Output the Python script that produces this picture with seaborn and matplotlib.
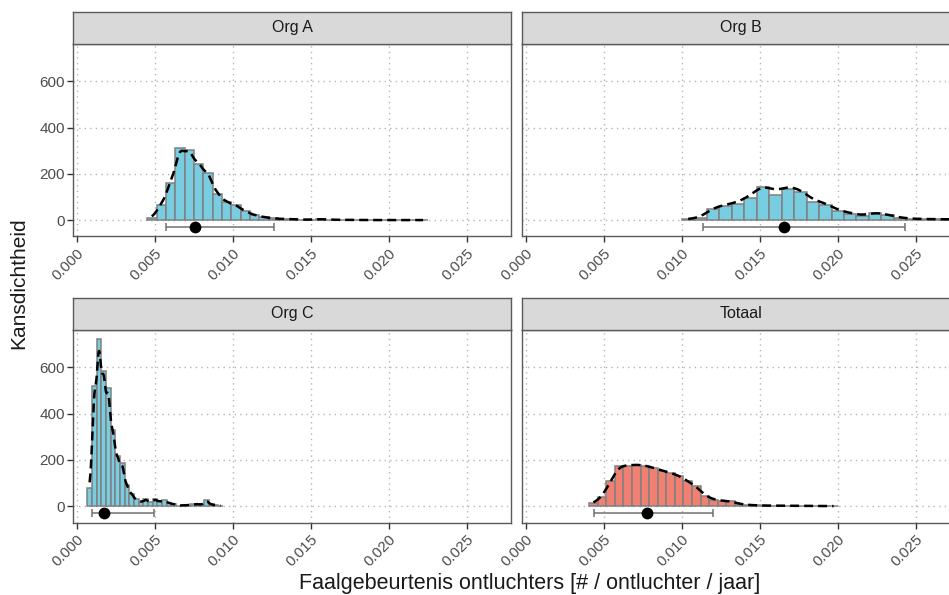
import numpy as np
import pandas as pd
import matplotlib
matplotlib.use("Agg")
import matplotlib.pyplot as plt
import seaborn as sns

# ---------------- data ----------------
panels = ["Org A", "Org B", "Org C", "Totaal"]

# histogram bins: first left edge + bin width, and bar heights (density)
orgA_start, orgA_width = 0.0045, 0.0006
orgA_density = [12, 68, 161, 312, 302, 245, 206, 115, 79, 65, 40, 22, 14, 8,
                6, 4, 3, 3, 5, 3, 2, 2, 1, 1, 1, 1, 1, 1, 1, 1]

orgB_start, orgB_width = 0.0100, 0.0008
orgB_density = [5, 10, 50, 60, 71, 96, 142, 110, 135, 121, 78, 68, 39, 29, 17,
                32, 22, 10, 6, 5, 4, 4, 3, 3, 2, 2, 1, 1, 1, 1]

orgC_start, orgC_width = 0.00066, 0.0003
orgC_density = [79, 518, 724, 583, 511, 330, 215, 185, 90, 55, 30, 20, 30, 20,
                30, 22, 25, 15, 10, 3, 5, 5, 8, 10, 8, 25, 8, 5, 3]

totaal_start, totaal_width = 0.00405, 0.00055
totaal_density = [14, 39, 108, 176, 176, 180, 176, 166, 154, 144, 132, 108, 86,
                  46, 29, 24, 22, 10, 6, 4, 3, 3, 2, 2, 2, 1, 1, 1, 1]

# point estimate and interval per panel
point_est = [0.00756, 0.01656, 0.00175, 0.00776]
interval_lo = [0.00572, 0.01133, 0.00094, 0.00437]
interval_hi = [0.01263, 0.02429, 0.00494, 0.01197]
point_y = -30

x_ticks = [0.000, 0.005, 0.010, 0.015, 0.020, 0.025]
x_tick_labels = ["0.000", "0.005", "0.010", "0.015", "0.020", "0.025"]
y_ticks = [0, 200, 400, 600]
y_tick_labels = ["0", "200", "400", "600"]

x_label = "Faalgebeurtenis ontluchters [# / ontluchter / jaar]"
y_label = "Kansdichtheid"

# ---------------- style ----------------
sns.set_theme(style="white")
plt.rcParams["font.family"] = ["Liberation Sans", "DejaVu Sans"]

blue = "#79CDE0"
salmon = "#F28072"
fills = [blue, blue, blue, salmon]
bw_factors = [0.15, 0.15, 0.10, 0.16]

hist_data = [
    (orgA_start, orgA_width, orgA_density),
    (orgB_start, orgB_width, orgB_density),
    (orgC_start, orgC_width, orgC_density),
    (totaal_start, totaal_width, totaal_density),
]

W, H = 949, 595
fig = plt.figure(figsize=(W / 100, H / 100), dpi=100)


def fax(x0, y0, x1, y1):
    return fig.add_axes([x0 / W, 1 - y1 / H, (x1 - x0) / W, (y1 - y0) / H])


cols = [(73, 511), (522, 960)]
rows = [((12, 43.5), (43.5, 236.5)), ((297.5, 329.5), (329.5, 522.5))]

border = "#5a5a5a"
tick_col = "#4D4D4D"

for i, name in enumerate(panels):
    r, c = divmod(i, 2)
    (sy0, sy1), (py0, py1) = rows[r]
    x0, x1 = cols[c]

    ax = fax(x0, py0, x1, py1)
    start, width, dens = hist_data[i]
    n = len(dens)
    edges = start + width * np.arange(n + 1)
    centers = edges[:-1] + width / 2
    df = pd.DataFrame({"x": centers, "d": dens})

    sns.histplot(data=df, x="x", weights="d", binwidth=width,
                 binrange=(edges[0], edges[-1]), stat="count",
                 color=fills[i], edgecolor="#808080", linewidth=1.1,
                 alpha=1, ax=ax, zorder=2)
    sns.kdeplot(data=df, x="x", weights="d", bw_method=bw_factors[i], cut=0,
                color="black", linestyle=(0, (3.6, 2.0)), linewidth=1.8,
                ax=ax, zorder=3, gridsize=400)

    ax.errorbar([point_est[i]], [point_y],
                xerr=[[point_est[i] - interval_lo[i]], [interval_hi[i] - point_est[i]]],
                fmt="none", ecolor="#707070", elinewidth=1.1, capsize=3.2,
                capthick=1.1, zorder=4)
    sns.scatterplot(x=[point_est[i]], y=[point_y], color="black", s=72,
                    edgecolor="black", linewidth=0, ax=ax, zorder=5)

    ax.set_xlim(-0.000257, 0.02784)
    ax.set_ylim(-70, 763)
    ax.set_xticks(x_ticks)
    ax.set_xticklabels(x_tick_labels, rotation=45, ha="right", va="top",
                       rotation_mode="anchor", color=tick_col, fontsize=11)
    ax.set_yticks(y_ticks)
    if c == 0:
        ax.set_yticklabels(y_tick_labels, color=tick_col, fontsize=11)
        ax.tick_params(axis="y", left=True, length=4, width=1, color="#333333",
                       pad=2)
    else:
        ax.set_yticklabels([])
        ax.tick_params(axis="y", left=False, length=0)
    ax.tick_params(axis="x", bottom=True, length=4, width=1, color="#333333",
                   pad=3)
    ax.set_xlabel("")
    ax.set_ylabel("")
    ax.grid(True, linestyle=(0, (1, 3)), color="#b5b5b5", linewidth=1.0)
    ax.set_axisbelow(True)
    for sp in ax.spines.values():
        sp.set_color(border)
        sp.set_linewidth(1.0)
    ax.set_facecolor("white")

    sax = fax(x0, sy0, x1, sy1)
    sax.set_facecolor("#D9D9D9")
    sax.set_xticks([])
    sax.set_yticks([])
    for sp in sax.spines.values():
        sp.set_color(border)
        sp.set_linewidth(1.0)
    sax.text(0.5, 0.5, name, ha="center", va="center", fontsize=11.5,
             color="#1A1A1A", transform=sax.transAxes)

fig.text(530 / W, 1 - 584 / H, x_label, ha="center", va="center",
         fontsize=15.5, color="#1A1A1A")
fig.text(19 / W, 1 - 283 / H, y_label, ha="center", va="center",
         rotation=90, fontsize=15, color="#1A1A1A")

fig.savefig("out.png", dpi=100, facecolor="white")
